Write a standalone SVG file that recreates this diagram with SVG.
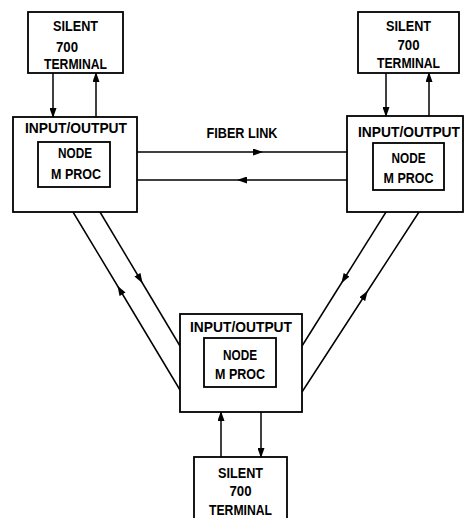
<svg xmlns="http://www.w3.org/2000/svg" width="464" height="518" viewBox="0 0 464 518">
<defs>
<style>
.box{fill:#fff;stroke:#000;stroke-width:1.8}
.ln{fill:none;stroke:#000;stroke-width:1.5}
text{font-family:"Liberation Sans",Arial,sans-serif;font-weight:bold;font-size:14px;fill:#000;text-anchor:middle}
</style>
<marker id="ae" markerUnits="userSpaceOnUse" markerWidth="10" markerHeight="7" refX="9" refY="3.5" orient="auto"><path d="M0,0 L10,3.5 L0,7 z" fill="#000"/></marker>
<marker id="am" markerUnits="userSpaceOnUse" markerWidth="10" markerHeight="7" refX="5" refY="3.5" orient="auto"><path d="M0,0 L10,3.5 L0,7 z" fill="#000"/></marker>
</defs>
<rect width="464" height="518" fill="#fff"/>
<g id="connectors">
<line class="ln" x1="53" y1="73" x2="53" y2="117" marker-end="url(#ae)"/>
<line class="ln" x1="96" y1="117" x2="96" y2="73" marker-end="url(#ae)"/>
<line class="ln" x1="386" y1="73" x2="386" y2="116" marker-end="url(#ae)"/>
<line class="ln" x1="429" y1="116" x2="429" y2="73" marker-end="url(#ae)"/>
<line class="ln" x1="221" y1="457" x2="221" y2="412" marker-end="url(#ae)"/>
<line class="ln" x1="261" y1="412" x2="261" y2="457" marker-end="url(#ae)"/>
<path class="ln" d="M137,152 L258,152 L347,152" marker-mid="url(#am)"/>
<path class="ln" d="M347,180 L242,180 L137,180" marker-mid="url(#am)"/>
<path class="ln" d="M100,212 L140,279 L180,346" marker-mid="url(#am)"/>
<path class="ln" d="M180,390 L120,290 L73,212" marker-mid="url(#am)"/>
<path class="ln" d="M386,212 L344,279 L302,346" marker-mid="url(#am)"/>
<path class="ln" d="M302,392 L365,295 L419,212" marker-mid="url(#am)"/>
<text x="242" y="138" textLength="71" lengthAdjust="spacingAndGlyphs">FIBER LINK</text>
</g>
<g id="term-tl">
<rect class="box" x="28" y="12" width="95" height="61"/>
<text x="75.5" y="31" textLength="45" lengthAdjust="spacingAndGlyphs">SILENT</text>
<text x="67" y="52" textLength="22" lengthAdjust="spacingAndGlyphs">700</text>
<text x="75.5" y="69" textLength="63" lengthAdjust="spacingAndGlyphs">TERMINAL</text>
</g>
<g id="term-tr">
<rect class="box" x="358" y="12" width="101" height="61"/>
<text x="408.5" y="31" textLength="45" lengthAdjust="spacingAndGlyphs">SILENT</text>
<text x="408.5" y="50" textLength="22" lengthAdjust="spacingAndGlyphs">700</text>
<text x="408.5" y="68" textLength="63" lengthAdjust="spacingAndGlyphs">TERMINAL</text>
</g>
<g id="io-left">
<rect class="box" x="13" y="117" width="124" height="95"/>
<text x="76" y="133" textLength="102" lengthAdjust="spacingAndGlyphs">INPUT/OUTPUT</text>
<rect class="box" x="38" y="142" width="72" height="45"/>
<text x="75" y="158" textLength="34" lengthAdjust="spacingAndGlyphs">NODE</text>
<text x="76" y="179" textLength="50" lengthAdjust="spacingAndGlyphs">M PROC</text>
</g>
<g id="io-right">
<rect class="box" x="347" y="116" width="116" height="96"/>
<text x="409" y="137" textLength="102" lengthAdjust="spacingAndGlyphs">INPUT/OUTPUT</text>
<rect class="box" x="373" y="143" width="71" height="47"/>
<text x="408.5" y="163" textLength="34" lengthAdjust="spacingAndGlyphs">NODE</text>
<text x="408.5" y="183" textLength="50" lengthAdjust="spacingAndGlyphs">M PROC</text>
</g>
<g id="io-bottom">
<rect class="box" x="180" y="314" width="122" height="98"/>
<text x="241" y="332" textLength="102" lengthAdjust="spacingAndGlyphs">INPUT/OUTPUT</text>
<rect class="box" x="204" y="338" width="72" height="49"/>
<text x="240" y="360" textLength="34" lengthAdjust="spacingAndGlyphs">NODE</text>
<text x="240" y="379" textLength="50" lengthAdjust="spacingAndGlyphs">M PROC</text>
</g>
<g id="term-bottom">
<rect class="box" x="194" y="457" width="93" height="75"/>
<text x="240.5" y="478" textLength="45" lengthAdjust="spacingAndGlyphs">SILENT</text>
<text x="240.5" y="496" textLength="22" lengthAdjust="spacingAndGlyphs">700</text>
<text x="240.5" y="515" textLength="63" lengthAdjust="spacingAndGlyphs">TERMINAL</text>
</g>
</svg>
